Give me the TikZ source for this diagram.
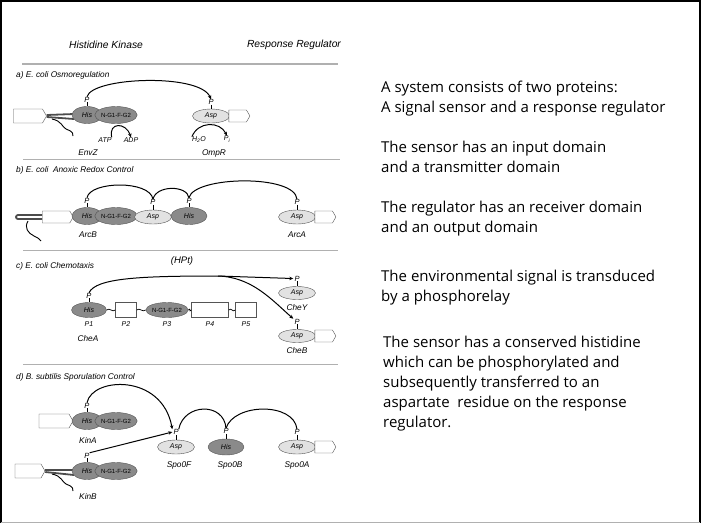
\documentclass[tikz,border=0pt]{standalone}
\usepackage{fontspec}
\setmainfont{Liberation Sans}
\newfontfamily\handfont{Open Sans}
\usetikzlibrary{arrows.meta,positioning,shapes.geometric,shapes.symbols}
\definecolor{hisgray}{HTML}{8A8A8A}
\definecolor{aspgray}{HTML}{E2E2E2}
\definecolor{rimgray}{HTML}{555555}
\definecolor{rulegray}{HTML}{B0B0B0}
\begin{document}
\begin{tikzpicture}[x=1pt,y=-1pt, every node/.style={font=\itshape\fontsize{7}{8}\selectfont,inner sep=0pt}, his/.style={ellipse,draw=rimgray,fill=hisgray,minimum width=30,minimum height=17,font=\itshape\fontsize{7}{8}\selectfont}, ngf/.style={his,minimum width=39,font=\fontsize{6}{7}\selectfont}, asp/.style={ellipse,draw=rimgray,fill=aspgray,minimum width=37,minimum height=14,font=\itshape\fontsize{7}{8}\selectfont}, inbox/.style={signal,signal to=east,signal pointer angle=120,draw=rimgray,fill=white,minimum width=33,minimum height=14}, outbox/.style={inbox,minimum width=21,minimum height=12,anchor=west}, pbox/.style={rectangle,draw=rimgray,fill=white,minimum height=15}, plab/.style={font=\itshape\fontsize{7.5}{8}\selectfont}, gene/.style={font=\itshape\fontsize{8.3}{9}\selectfont}, ttl/.style={gene,anchor=west}, hdr/.style={font=\itshape\fontsize{10.3}{11}\selectfont}, say/.style={font=\handfont\fontsize{15}{20}\selectfont,anchor=north west,align=left}, relay/.style={line width=1pt}, stalk/.style={line width=1pt}, helix/.style={line width=1.8pt,draw=black!70}, tail/.style={line width=0.9pt}, rule/.style={draw=rulegray,line width=1pt}, >={Stealth[length=4pt,width=3.5pt]}]
\useasboundingbox (0,0) rectangle (702,523);
\draw[line width=1.2pt] (1,523) -- (1,1) -- (700,1) -- (700,523);
\draw[rulegray] (1,522) -- (700,522);
% header
\node[hdr] (hk) at (106,45) {Histidine Kinase};
\node[hdr] (rr) at (294,45) {Response Regulator};
\draw[rule,line width=1.6pt] (22,64) -- (338,64);
% a) osmoregulation
\node[ttl] (ta) at (16,75) {a) E. coli Osmoregulation};
\node[inbox] (inA) at (28,116) {};
\draw[helix] ([yshift=1pt]inA.east) -- (74,114);
\draw[helix] ([yshift=-1pt]inA.east) -- (74,119);
\draw[tail] (52,119) .. controls (62,121) and (62,127) .. (66,129) .. controls (70,131) and (73,131) .. (73,136);
\node[his] (hisA) at (87,115) {His};
\node[ngf] (ngA) at (116,115) {N-G1-F-G2};
\node[plab,above=4pt of hisA] (pA) {P};
\node[asp] (aspA) at (211,116) {Asp};
\node[outbox,right=-1pt of aspA] (oA) {};
\node[plab,above=4pt of aspA] (pA2) {P};
\node[plab,font=\itshape\fontsize{7}{8}\selectfont] (atpA) at (105,140) {ATP};
\node[plab,font=\itshape\fontsize{7}{8}\selectfont] (adpA) at (131,140) {ADP};
\node[plab,font=\itshape\fontsize{7}{8}\selectfont] (h2oA) at (199,140) {H\textsubscript{2}O};
\node[plab,font=\itshape\fontsize{7}{8}\selectfont] (piA) at (227,139) {P\textsubscript{i}};
\node[gene] (envz) at (88,153) {EnvZ};
\node[gene] (ompr) at (214,153) {OmpR};
\draw[stalk] (pA.south) -- (hisA.north);
\draw[stalk] (pA2.south) -- (aspA.north);
\draw[relay,->] (pA.north) .. controls (92,77) and (200,73) .. (pA2.north);
\draw[relay,->] (atpA.north east) .. controls (108,122) and (126,122) .. (adpA.north);
\draw[relay,->] (h2oA.north west) .. controls (198,121) and (220,121) .. (piA.north);
\draw[rule] (23,159) -- (340,159);
% b) anoxic redox control
\node[ttl] (tb) at (16,170) {b) E. coli\ \ Anoxic Redox Control};
\node[inbox,minimum width=31,minimum height=12] (inB) at (56,217) {};
\node[his] (hisB) at (87,216) {His};
\node[ngf] (ngB) at (116,216) {N-G1-F-G2};
\node[asp] (aspB) at (153,217) {Asp};
\node[his,minimum width=36] (hisB2) at (189,216) {His};
\node[asp] (aspB2) at (297,217) {Asp};
\node[outbox,right=-1pt of aspB2] (oB) {};
\node[plab,above=4pt of hisB] (pB1) {P};
\node[plab,above=5pt of aspB] (pB2) {P};
\node[plab,above=4pt of hisB2] (pB3) {P};
\node[plab,above=5pt of aspB2] (pB4) {P};
\node[gene] (arcb) at (88,235) {ArcB};
\node[gene] (arca) at (297,235) {ArcA};
\draw[helix,rounded corners=2pt] ([yshift=2pt]inB.west) -- (16,215) -- (16,219) -- ([yshift=-2pt]inB.west);
\draw[tail] (28,221) .. controls (24,228) and (28,233) .. (34,236) .. controls (38,238) and (40,239) .. (41,241);
\foreach \p/\h in {pB1/hisB,pB2/aspB,pB3/hisB2,pB4/aspB2} \draw[stalk] (\p.south) -- (\h.north);
\draw[relay] (pB1.north) .. controls (90,181) and (150,180) .. (pB2.north);
\draw[relay] (pB2.north) .. controls (156,185) and (187,185) .. (pB3.north);
\draw[relay] (pB3.north) .. controls (194,176) and (295,174) .. (pB4.north);
\draw[rule] (23,250) -- (338,250);
% c) chemotaxis
\node[ttl] (tc) at (16,266) {c) E. coli Chemotaxis};
\node[plab,font=\itshape\fontsize{9.5}{10}\selectfont] (hpt) at (182,261) {(HPt)};
\node[his,minimum width=35,minimum height=15] (hisC) at (89,310) {His};
\node[pbox,minimum width=21] (p2) at (126,310) {};
\node[ngf,minimum width=41,minimum height=15] (ngC) at (167,310) {N-G1-F-G2};
\node[pbox,minimum width=37] (p4) at (210,310) {};
\node[pbox,minimum width=21] (p5) at (246,310) {};
\foreach \a/\b in {hisC/p2,p2/ngC,ngC/p4,p4/p5}
  \draw[line width=0.7pt] (\a.east) .. controls +(3,-3) and +(-3,3) .. (\b.west);
\foreach \n/\t/\x in {l1/P1/89,l2/P2/126,l3/P3/167,l4/P4/210,l5/P5/246}
  \node[plab,font=\itshape\fontsize{7}{8}\selectfont] (\n) at (\x,324) {\t};
\node[gene] (chea) at (88,339) {CheA};
\node[plab,above=4pt of hisC] (pC) {P};
\node[asp,minimum height=13] (aspY) at (297,293) {Asp};
\node[plab,above=5pt of aspY] (pY) {P};
\node[gene] (chey) at (297,308) {CheY};
\node[asp,minimum height=13] (aspCB) at (297,336) {Asp};
\node[outbox,right=-1pt of aspCB] (oC) {};
\node[plab,above=5pt of aspCB] (pCB) {P};
\node[gene] (cheb) at (297,351) {CheB};
\draw[stalk] (pC.south) -- (hisC.north);
\draw[stalk] (pY.south) -- (aspY.north);
\draw[stalk] (pCB.south) -- (aspCB.north);
\coordinate (br) at (218,276);
\draw[relay,->] (pC.north) .. controls (96,278) and (140,276) .. (br) -- ([xshift=-1pt]pY.west);
\draw[relay,->] (br) .. controls (252,277) and (272,300) .. ([xshift=-1pt]pCB.north west);
\draw[rule] (23,364) -- (338,364);
% d) sporulation control
\node[ttl] (td) at (16,377) {d) B. subtilis Sporulation Control};
\node[inbox,minimum width=34] (inD) at (54,421) {};
\node[his] (hisD) at (87,421) {His};
\node[ngf] (ngD) at (116,421) {N-G1-F-G2};
\node[plab,above=4pt of hisD] (pD) {P};
\node[gene] (kina) at (88,440) {KinA};
\node[inbox,minimum width=30] (inE) at (28,471) {};
\draw[helix] ([yshift=1pt]inE.east) -- (74,470);
\draw[helix] ([yshift=-1pt]inE.east) -- (74,475);
\draw[tail] (52,474) .. controls (62,476) and (62,482) .. (66,484) .. controls (70,486) and (73,486) .. (73,491);
\node[his] (hisE) at (87,471) {His};
\node[ngf] (ngE) at (116,471) {N-G1-F-G2};
\node[plab,above=4pt of hisE] (pE) {P};
\node[gene] (kinb) at (88,496) {KinB};
\node[asp] (aspF) at (176,447) {Asp};
\node[plab,above=5pt of aspF] (pF) {P};
\node[gene] (spof) at (179,465) {Spo0F};
\node[his,minimum width=36,minimum height=16] (hisG) at (226,447) {His};
\node[plab,above=5pt of hisG] (pG) {P};
\node[gene] (spob) at (230,465) {Spo0B};
\node[asp] (aspH) at (297,447) {Asp};
\node[outbox,right=-1pt of aspH] (oD) {};
\node[plab,above=5pt of aspH] (pH) {P};
\node[gene] (spoa) at (297,465) {Spo0A};
\foreach \p/\h in {pD/hisD,pE/hisE,pF/aspF,pG/hisG,pH/aspH} \draw[stalk] (\p.south) -- (\h.north);
\draw[relay,->] (pD.north) .. controls (92,377) and (162,373) .. ([xshift=-1pt]pF.north west);
\draw[relay,->] (pE.north east) -- ([xshift=-1pt]pF.west);
\draw[relay] (pF.north east) .. controls (184,403) and (224,402) .. (pG.north);
\draw[relay] (pG.north) .. controls (234,403) and (294,402) .. (pH.north);
% statements
\node[say] (s1) at (381,81) {A system consists of two proteins:\\A signal sensor and a response regulator};
\node[say] (s2) at (381,141) {The sensor has an input domain\\and a transmitter domain};
\node[say] (s3) at (381,201) {The regulator has an receiver domain\\and an output domain};
\node[say] (s4) at (381,270) {The environmental signal is transduced\\by a phosphorelay};
\node[say] (s5) at (383,336) {The sensor has a conserved histidine\\which can be phosphorylated and\\subsequently transferred to an\\aspartate\ \ residue on the response\\regulator.};
\end{tikzpicture}
\end{document}
